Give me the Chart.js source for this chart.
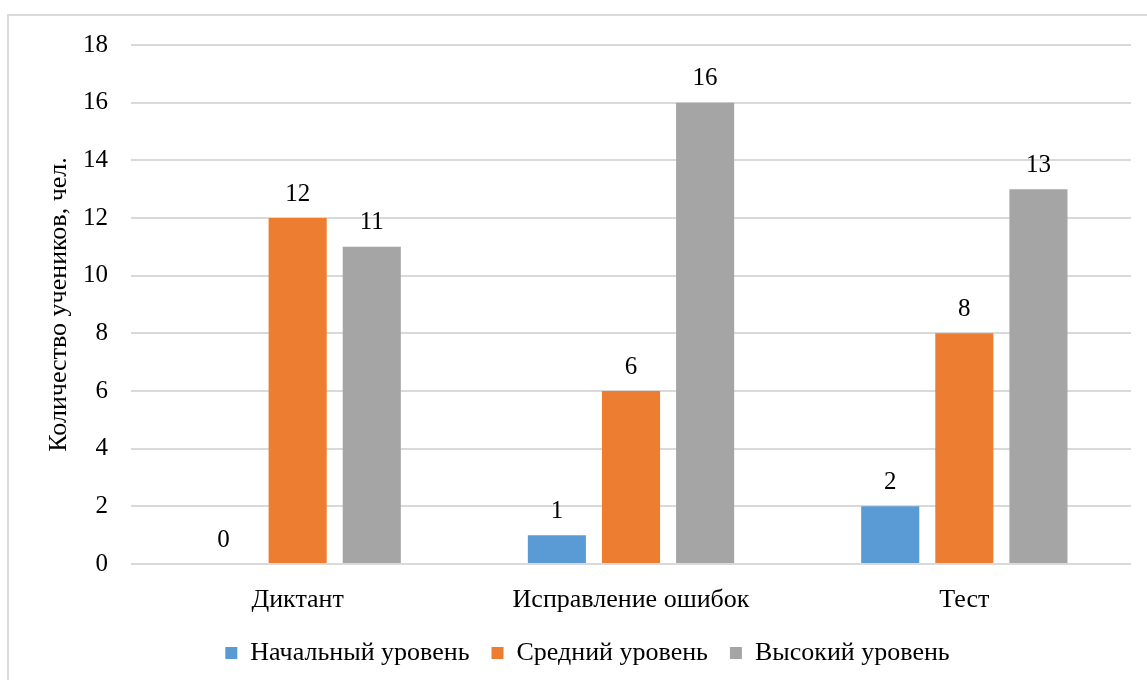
<!DOCTYPE html>
<html>
<head>
<meta charset="utf-8">
<script src="https://cdn.jsdelivr.net/npm/chart.js@4"></script>
<style>
  html, body { margin: 0; padding: 0; background: #fff; overflow: hidden; }
  .frame {
    position: absolute; left: 7px; top: 14px; width: 1200px; height: 720px;
    border: 2px solid #d9d9d9; box-sizing: border-box;
  }
  .wrap { position: absolute; left: 0; top: 0; width: 1147px; height: 680px; }
</style>
</head>
<body>
<div class="frame"></div>
<div class="wrap"><canvas id="chart" width="1147" height="680"></canvas></div>
<script>
const categories = ['Диктант', 'Исправление ошибок', 'Тест'];
const seriesNames = ['Начальный уровень', 'Средний уровень', 'Высокий уровень'];
const beginnerValues = [0, 1, 2];
const middleValues = [12, 6, 8];
const highValues = [11, 16, 13];
const yTicks = [0, 2, 4, 6, 8, 10, 12, 14, 16, 18];

const colors = ['#5b9bd5', '#ed7d31', '#a5a5a5'];
const serif = '"Liberation Serif", "Times New Roman", serif';
Chart.defaults.font.family = serif;
Chart.defaults.color = '#000';

// подписи значений над столбцами
const valueLabels = {
    id: 'valueLabels',
    afterDatasetsDraw(chart) {
        const ctx = chart.ctx;
        ctx.save();
        ctx.font = '25px ' + serif;
        ctx.fillStyle = '#000';
        ctx.textAlign = 'center';
        ctx.textBaseline = 'middle';
        chart.data.datasets.forEach((ds, i) => {
            chart.getDatasetMeta(i).data.forEach((bar, j) => {
                ctx.fillText(String(ds.data[j]), bar.x, bar.y - 24);
            });
        });
        ctx.restore();
    }
};

new Chart(document.getElementById('chart').getContext('2d'), {
    type: 'bar',
    data: {
        labels: categories,
        datasets: [
            { label: seriesNames[0], data: beginnerValues, backgroundColor: colors[0] },
            { label: seriesNames[1], data: middleValues, backgroundColor: colors[1] },
            { label: seriesNames[2], data: highValues, backgroundColor: colors[2] }
        ]
    },
    options: {
        responsive: false,
        animation: false,
        categoryPercentage: 0.667,
        barPercentage: 0.784,
        layout: { padding: { top: 45, right: 16, bottom: 4, left: 44 } },
        plugins: {
            tooltip: { enabled: false },
            legend: {
                position: 'bottom',
                labels: {
                    font: { size: 26 },
                    boxWidth: 12,
                    boxHeight: 12,
                    padding: 22
                }
            }
        },
        scales: {
            x: {
                grid: { display: false },
                border: { display: false },
                ticks: { font: { size: 26 }, padding: 13 },
                afterFit: s => { s.height = 54; }
            },
            y: {
                min: 0,
                max: 18,
                afterBuildTicks: s => { s.ticks = yTicks.map(v => ({ value: v })); },
                grid: { color: '#d9d9d9', lineWidth: 2, drawTicks: false },
                border: { display: false },
                ticks: { font: { size: 25 }, padding: 23 },
                title: {
                    display: true,
                    text: 'Количество учеников, чел.',
                    font: { size: 26 },
                    padding: 0
                },
                afterFit: s => { s.width = 87; }
            }
        }
    },
    plugins: [valueLabels]
});
</script>
</body>
</html>
